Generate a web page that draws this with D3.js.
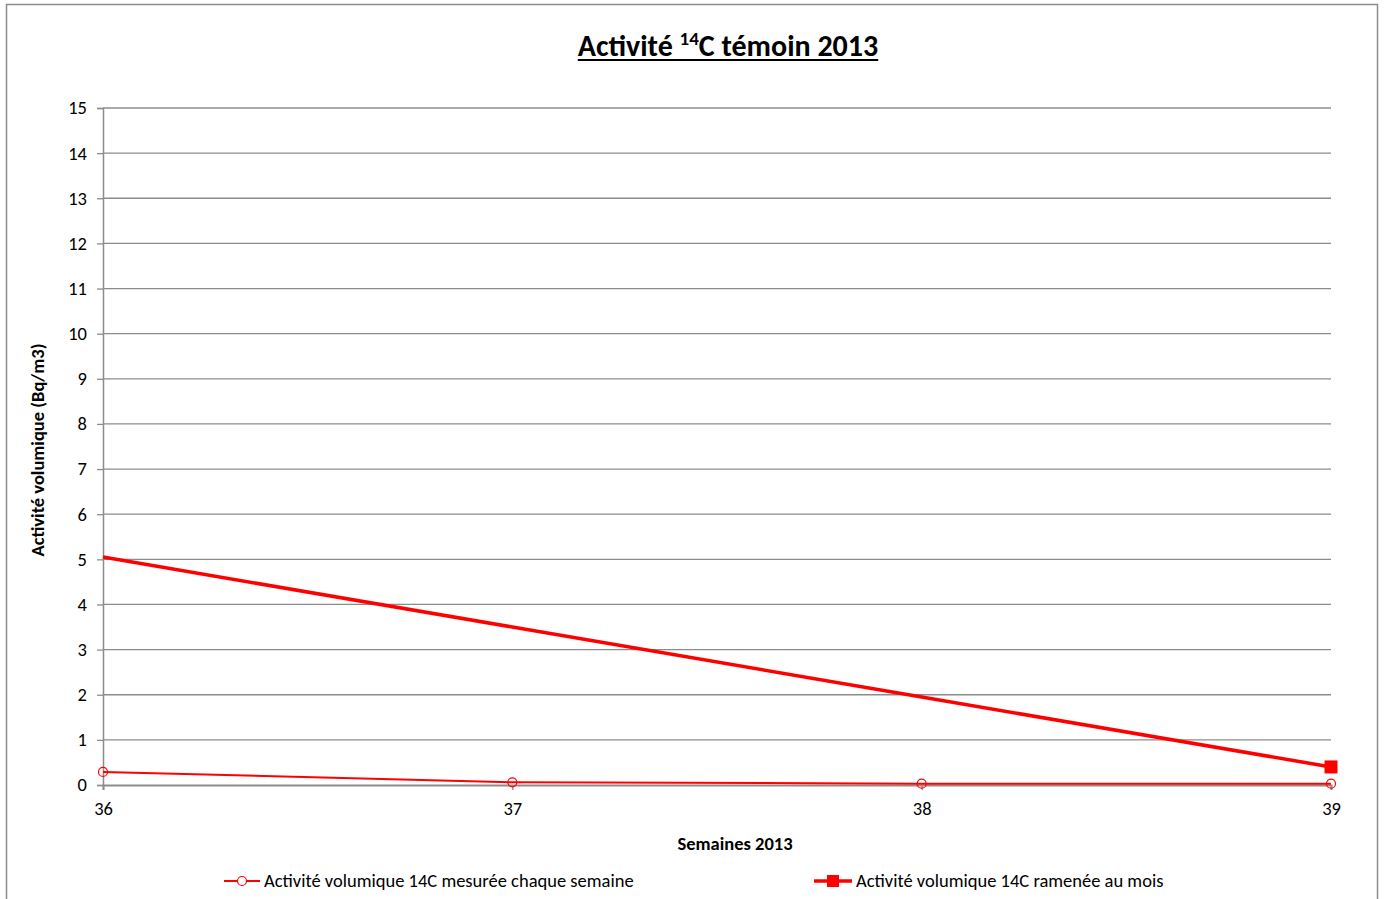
<!DOCTYPE html>
<html><head><meta charset="utf-8">
<script src="https://cdn.jsdelivr.net/npm/d3@7/dist/d3.min.js"></script>
<style>body{margin:0;background:#fff;} svg{display:block;font-family:Carlito, Calibri, Lato, "Open Sans", sans-serif;}</style>
</head><body>
<script>
const weeks = [36, 37, 38, 39];
const weeklyValues = [0.29, 0.06, 0.03, 0.03];
const monthlyValues = [5.05, 3.5, 1.95, 0.4];
const yTicks = [0,1,2,3,4,5,6,7,8,9,10,11,12,13,14,15];
const seriesNames = ["Activité volumique 14C mesurée chaque semaine", "Activité volumique 14C ramenée au mois"];

const W = 1385, H = 899;
const FONT = "Carlito, Calibri, Lato, sans-serif";
const svg = d3.select("body").append("svg").attr("width", W).attr("height", H);
svg.append("rect").attr("x", 6.5).attr("y", 4.5).attr("width", 1371).attr("height", 910)
  .attr("fill", "#fff").attr("stroke", "#8c8c8c").attr("stroke-width", 1.5);

const L = 103, R = 1331, T = 108, B = 785;
const x = d3.scaleLinear().domain([36, 39]).range([L, R]);
const y = d3.scaleLinear().domain([0, 15]).range([B, T]);

// gridlines
svg.append("g").selectAll("line").data(yTicks.filter(d => d > 0)).join("line")
  .attr("x1", L).attr("x2", R).attr("y1", d => y(d)).attr("y2", d => y(d))
  .attr("stroke", "#8c8c8c").attr("stroke-width", 1.3);

// y axis
const ya = svg.append("g").attr("transform", `translate(${L},0)`)
  .call(d3.axisLeft(y).tickValues(yTicks).tickSize(6).tickPadding(10));
ya.select(".domain").attr("stroke", "#8c8c8c").attr("stroke-width", 1.5);
ya.selectAll(".tick line").attr("stroke", "#8c8c8c").attr("stroke-width", 1.3);
ya.selectAll("text").style("font-size", "18.5px").style("font-family", FONT).attr("fill", "#000");

// x axis
const xa = svg.append("g").attr("transform", `translate(0,${B})`)
  .call(d3.axisBottom(x).tickValues(weeks).tickFormat(d3.format("d")).tickSize(5).tickPadding(12));
xa.select(".domain").attr("stroke", "#8c8c8c").attr("stroke-width", 2);
xa.selectAll(".tick line").attr("stroke", "#8c8c8c").attr("stroke-width", 1.3);
xa.selectAll("text").style("font-size", "18.5px").style("font-family", FONT).attr("fill", "#000");

const line = d3.line().x((d, i) => x(weeks[i])).y(d => y(d));

// monthly line
svg.append("path").datum(monthlyValues).attr("d", line)
  .attr("fill", "none").attr("stroke", "#ff0000").attr("stroke-width", 3.5);
svg.append("rect")
  .attr("x", x(weeks[3]) - 6.5).attr("y", y(monthlyValues[3]) - 6.5)
  .attr("width", 13).attr("height", 13).attr("fill", "#ff0000");

// weekly line
svg.append("path").datum(weeklyValues).attr("d", line)
  .attr("fill", "none").attr("stroke", "#ff0000").attr("stroke-width", 2);
svg.append("g").selectAll("circle").data(weeklyValues).join("circle")
  .attr("cx", (d, i) => x(weeks[i])).attr("cy", d => y(d)).attr("r", 4.5)
  .attr("fill", "none").attr("stroke", "#ff0000").attr("stroke-width", 1.2);

// title
const title = svg.append("text").attr("x", 728).attr("y", 56).attr("text-anchor", "middle")
  .style("font-size", "30px").attr("font-weight", "bold");
title.append("tspan").text("Activité ");
title.append("tspan").text("14").style("font-size", "19px").attr("dy", -11);
title.append("tspan").text("C témoin 2013").attr("dy", 11);
const tb = title.node().getBBox();
svg.append("line").attr("x1", tb.x).attr("x2", tb.x + tb.width).attr("y1", 60).attr("y2", 60)
  .attr("stroke", "#000").attr("stroke-width", 2);

// axis titles
svg.append("text").attr("transform", "translate(44,450) rotate(-90)").attr("text-anchor", "middle")
  .style("font-size", "18.5px").attr("font-weight", "bold").text("Activité volumique (Bq/m3)");
svg.append("text").attr("x", 735).attr("y", 850).attr("text-anchor", "middle")
  .style("font-size", "18.5px").attr("font-weight", "bold").text("Semaines 2013");

// legend
const lg1 = svg.append("g");
lg1.append("line").attr("x1", 224).attr("x2", 260).attr("y1", 881).attr("y2", 881)
  .attr("stroke", "#ff0000").attr("stroke-width", 2);
lg1.append("circle").attr("cx", 242).attr("cy", 881).attr("r", 4.5).attr("fill", "#fff")
  .attr("stroke", "#ff0000").attr("stroke-width", 1.2);
lg1.append("text").attr("x", 264).attr("y", 887).style("font-size", "18.5px").text(seriesNames[0]);

const lg2 = svg.append("g");
lg2.append("line").attr("x1", 814).attr("x2", 852).attr("y1", 881).attr("y2", 881)
  .attr("stroke", "#ff0000").attr("stroke-width", 3.5);
lg2.append("rect").attr("x", 827).attr("y", 875).attr("width", 12).attr("height", 12).attr("fill", "#ff0000");
lg2.append("text").attr("x", 856).attr("y", 887).style("font-size", "18.5px").text(seriesNames[1]);
</script>
</body></html>
